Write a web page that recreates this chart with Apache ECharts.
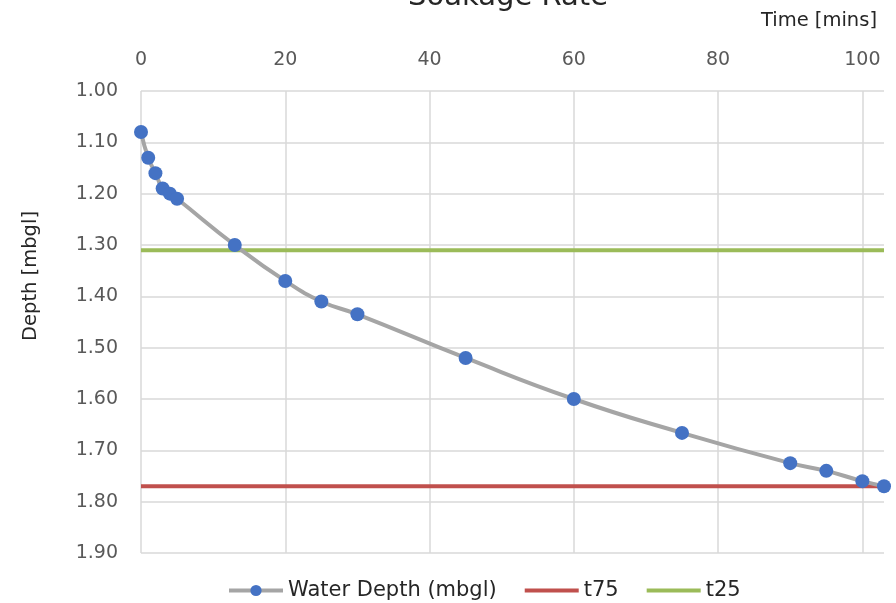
<!DOCTYPE html>
<html>
<head>
<meta charset="utf-8">
<script src="https://cdn.jsdelivr.net/npm/echarts@6/dist/echarts.min.js"></script>
<style>
  html, body { margin: 0; padding: 0; background: #fff; }
  #chart { width: 896px; height: 603px; }
</style>
</head>
<body>
<div id="chart"></div>
<script>
// time in minutes vs. water depth in metres below ground level
const timeMins = [0, 1, 2, 3, 4, 5, 13, 20, 25, 30, 45, 60, 75, 90, 95, 100, 103]
const waterDepth = [1.08, 1.13, 1.16, 1.19, 1.2, 1.21, 1.3, 1.37, 1.41, 1.435, 1.52, 1.6, 1.666, 1.725, 1.74, 1.76, 1.77]
const t75 = 1.77
const t25 = 1.31
const timeTicks = [0, 20, 40, 60, 80, 100]

const font = "DejaVu Sans"
const textColor = "#595959"

var chart = echarts.init(document.getElementById("chart"))
chart.setOption({
	animation: false,
	textStyle: { fontFamily: font },
	title: {
		text: "Soakage Rate",
		left: 503,
		textAlign: "center",
		top: -22,
		textStyle: { fontFamily: font, fontSize: 29, fontWeight: "normal", color: "#262626" }
	},
	grid: { left: 141, right: 12, top: 91, bottom: 50 },
	legend: {
		top: 575,
		left: 222,
		itemWidth: 54,
		itemHeight: 14,
		itemGap: 26,
		lineStyle: { width: 4 },
		textStyle: { fontFamily: font, fontSize: 21, color: "#262626" },
		data: [
			"Water Depth (mbgl)",
			{ name: "t75", itemStyle: { opacity: 0 } },
			{ name: "t25", itemStyle: { opacity: 0 } }
		]
	},
	xAxis: {
		type: "value",
		position: "top",
		min: 0,
		max: 103,
		interval: 20,
		name: "Time [mins]",
		nameLocation: "end",
		nameGap: -7,
		nameTextStyle: { fontFamily: font, fontSize: 19.5, color: "#262626", align: "right", verticalAlign: "bottom", padding: [0, 0, 60, 0] },
		axisLine: { show: false },
		axisTick: { show: false, customValues: timeTicks },
		axisLabel: { customValues: timeTicks, margin: 21, fontSize: 19, color: textColor },
		splitLine: { show: true, lineStyle: { color: "#d9d9d9", width: 1.5 } }
	},
	yAxis: {
		type: "value",
		inverse: true,
		min: 1.0,
		max: 1.9,
		interval: 0.1,
		name: "Depth [mbgl]",
		nameLocation: "middle",
		nameGap: 100,
		nameTextStyle: { fontFamily: font, fontSize: 19.5, color: "#262626", padding: [0, 0, 0, 92] },
		axisLine: { show: false },
		axisTick: { show: false },
		axisLabel: { margin: 23, fontSize: 19, color: textColor, formatter: v => v.toFixed(2) },
		splitLine: { show: true, lineStyle: { color: "#d9d9d9", width: 1.5 } }
	},
	series: [
		{
			name: "Water Depth (mbgl)",
			type: "line",
			smooth: true,
			data: timeMins.map((t, i) => [t, waterDepth[i]]),
			symbol: "circle",
			symbolSize: 14,
			lineStyle: { color: "#a5a5a5", width: 4 },
			itemStyle: { color: "#4472c4" },
			z: 5
		},
		{
			name: "t75",
			type: "line",
			data: [[0, t75], [103, t75]],
			symbol: "none",
			lineStyle: { color: "#c0504d", width: 4 },
			itemStyle: { color: "#c0504d" },
			z: 3
		},
		{
			name: "t25",
			type: "line",
			data: [[0, t25], [103, t25]],
			symbol: "none",
			lineStyle: { color: "#9bbb59", width: 4 },
			itemStyle: { color: "#9bbb59" },
			z: 3
		}
	]
})
</script>
</body>
</html>
